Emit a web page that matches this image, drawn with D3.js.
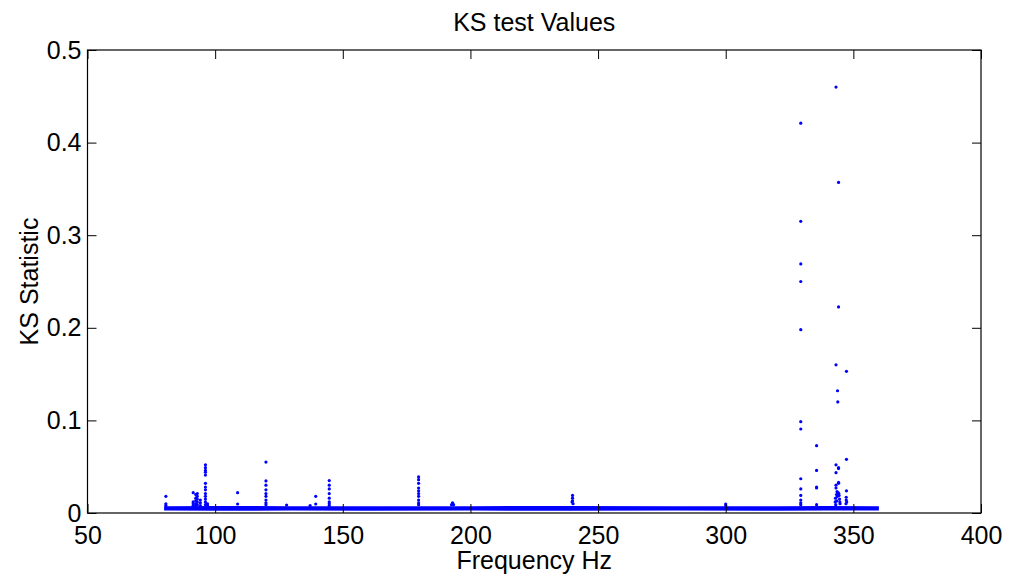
<!DOCTYPE html>
<html>
<head>
<meta charset="utf-8">
<script src="https://cdn.jsdelivr.net/npm/d3@7"></script>
<style>
  body { margin: 0; background: #fff; }
  text { font-family: "Liberation Sans", Arial, sans-serif; fill: #000; }
</style>
</head>
<body>
<svg width="1009" height="581"></svg>
<script>
// Axis limits and ticks
const xLims = [50, 400];
const yLims = [0, 0.5];
const xTicks = [50, 100, 150, 200, 250, 300, 350, 400];
const yTicks = [0, 0.1, 0.2, 0.3, 0.4, 0.5];
const yTickLabels = ["0", "0.1", "0.2", "0.3", "0.4", "0.5"];

// Baseline band of the KS values (dense points, drawn as a band)
const baseFreq = [80, 100, 130, 160, 200, 240, 280, 320, 340, 360];
const baseLow  = [0.0026, 0.0025, 0.0026, 0.0025, 0.0026, 0.0025, 0.0026, 0.0025, 0.0026, 0.0026];
const baseHigh = [0.0074, 0.0075, 0.0074, 0.0073, 0.0074, 0.0075, 0.0074, 0.0074, 0.0075, 0.0074];

// Points standing out from the baseline
const spikeFreq = [
  80.7, 80.7, 80.7,
  91.4, 91.4, 91.4, 91.4,
  92.4, 92.4, 92.4, 92.4, 92.4,
  93.0, 93.0, 93.0, 93.0, 93.0,
  94.2, 94.2, 94.2,
  96.2, 96.2, 96.2, 96.2, 96.2, 96.2, 96.2, 96.2, 96.2, 96.2, 96.2, 96.2, 96.2,
  97.0, 97.0,
  108.8, 108.8,
  119.9, 119.9, 119.9, 119.9, 119.9, 119.9, 119.9, 119.9, 119.9,
  128.0, 137.2,
  139.4, 139.4,
  144.7, 144.7, 144.7, 144.7, 144.7, 144.7, 144.7, 144.7,
  179.7, 179.7, 179.7, 179.7, 179.7, 179.7, 179.7, 179.7, 179.7, 179.7,
  192.6, 193.0, 193.4, 193.0,
  239.8, 240.0, 240.0, 240.0, 240.2,
  300.0, 300.0,
  329.4, 329.4, 329.4, 329.4, 329.4, 329.4, 329.4, 329.4, 329.4, 329.4, 329.4, 329.4, 329.4,
  335.6, 335.6, 335.6, 335.6, 335.6,
  343.2, 343.2, 343.2, 343.2, 343.2, 343.2,
  344.2, 344.2, 343.8, 343.9, 344.2, 344.2, 344.2, 344.2,
  342.9, 343.0, 343.4, 343.6, 344.0, 344.4, 344.6, 344.8, 343.1, 343.5, 343.8, 344.3, 344.7,
  347.3, 347.3, 347.3, 347.1, 347.2, 347.4, 347.2
];
const spikeVal = [
  0.018, 0.010, 0.008,
  0.022, 0.012, 0.010, 0.008,
  0.020, 0.016, 0.013, 0.010, 0.008,
  0.021, 0.018, 0.015, 0.012, 0.009,
  0.014, 0.011, 0.008,
  0.052, 0.049, 0.046, 0.044, 0.041, 0.032, 0.028, 0.025, 0.021, 0.018, 0.015, 0.012, 0.009,
  0.010, 0.008,
  0.022, 0.0097,
  0.055, 0.0346, 0.030, 0.025, 0.021, 0.018, 0.014, 0.011, 0.009,
  0.0086, 0.008,
  0.018, 0.0097,
  0.035, 0.030, 0.026, 0.021, 0.016, 0.012, 0.010, 0.008,
  0.039, 0.036, 0.032, 0.027, 0.024, 0.021, 0.018, 0.014, 0.011, 0.009,
  0.009, 0.011, 0.009, 0.0095,
  0.012, 0.019, 0.016, 0.013, 0.010,
  0.0097, 0.008,
  0.421, 0.315, 0.269, 0.250, 0.198, 0.0986, 0.0907, 0.037, 0.026, 0.019, 0.014, 0.011, 0.009,
  0.0727, 0.046, 0.028, 0.027, 0.009,
  0.460, 0.160, 0.052, 0.0435, 0.030, 0.027,
  0.357, 0.2225, 0.132, 0.120, 0.049, 0.048, 0.033, 0.032,
  0.012, 0.016, 0.020, 0.023, 0.022, 0.019, 0.015, 0.010, 0.009, 0.013, 0.018, 0.021, 0.012,
  0.153, 0.058, 0.024, 0.010, 0.014, 0.012, 0.017
];

const svg = d3.select("svg");
const width = +svg.attr("width");
const height = +svg.attr("height");
const margin = { top: 50, right: 28, bottom: 68, left: 87.5 };

const xScale = d3.scaleLinear().domain(xLims).range([margin.left, width - margin.right]);
const yScale = d3.scaleLinear().domain(yLims).range([height - margin.bottom, margin.top]);

const plotLeft = xScale(xLims[0]), plotRight = xScale(xLims[1]);
const plotTop = yScale(yLims[1]), plotBottom = yScale(yLims[0]);

// Baseline band
const band = d3.zip(baseFreq, baseLow, baseHigh);
svg.append("path")
   .datum(band)
   .attr("fill", "#0000ff")
   .attr("d", d3.area()
       .x(d => xScale(d[0]))
       .y0(d => yScale(d[1]))
       .y1(d => yScale(d[2])));

// Spike points
svg.append("g")
   .selectAll("circle")
   .data(d3.zip(spikeFreq, spikeVal))
   .join("circle")
   .attr("cx", d => xScale(d[0]))
   .attr("cy", d => yScale(d[1]))
   .attr("r", 1.6)
   .attr("fill", "#0000ff");

// Axes, MATLAB style: ticks pointing inwards on all four sides
const tickLen = 9;
const fontSize = "25px";

svg.append("g")
   .attr("transform", `translate(0,${plotBottom})`)
   .call(d3.axisBottom(xScale).tickValues(xTicks).tickSizeInner(-tickLen).tickSizeOuter(0).tickPadding(13))
   .call(g => g.select(".domain").remove())
   .call(g => g.selectAll("text").style("font-size", fontSize).style("font-family", "Liberation Sans, Arial").attr("fill", "#000"));

svg.append("g")
   .attr("transform", `translate(0,${plotTop})`)
   .call(d3.axisTop(xScale).tickValues(xTicks).tickSizeInner(-tickLen).tickSizeOuter(0).tickFormat(""))
   .call(g => g.select(".domain").remove());

svg.append("g")
   .attr("transform", `translate(${plotLeft},0)`)
   .call(d3.axisLeft(yScale).tickValues(yTicks).tickSizeInner(-tickLen).tickSizeOuter(0).tickPadding(6)
       .tickFormat((d, i) => yTickLabels[i]))
   .call(g => g.select(".domain").remove())
   .call(g => g.selectAll("text").style("font-size", fontSize).style("font-family", "Liberation Sans, Arial").attr("fill", "#000"));

svg.append("g")
   .attr("transform", `translate(${plotRight},0)`)
   .call(d3.axisRight(yScale).tickValues(yTicks).tickSizeInner(-tickLen).tickSizeOuter(0).tickFormat(""))
   .call(g => g.select(".domain").remove());

svg.selectAll(".tick line").attr("stroke", "#000").attr("stroke-width", 1);

// Box
svg.append("rect")
   .attr("x", plotLeft)
   .attr("y", plotTop)
   .attr("width", plotRight - plotLeft)
   .attr("height", plotBottom - plotTop)
   .attr("fill", "none")
   .attr("stroke", "#000")
   .attr("stroke-width", 1.2);

// Title and axis labels
svg.append("text")
   .attr("x", (plotLeft + plotRight) / 2)
   .attr("y", 31)
   .attr("text-anchor", "middle")
   .style("font-size", "25px")
   .text("KS test Values");

svg.append("text")
   .attr("x", (plotLeft + plotRight) / 2)
   .attr("y", 569)
   .attr("text-anchor", "middle")
   .style("font-size", "25px")
   .text("Frequency Hz");

svg.append("text")
   .attr("transform", `translate(38,${(plotTop + plotBottom) / 2}) rotate(-90)`)
   .attr("text-anchor", "middle")
   .style("font-size", "25px")
   .text("KS Statistic");
</script>
</body>
</html>
